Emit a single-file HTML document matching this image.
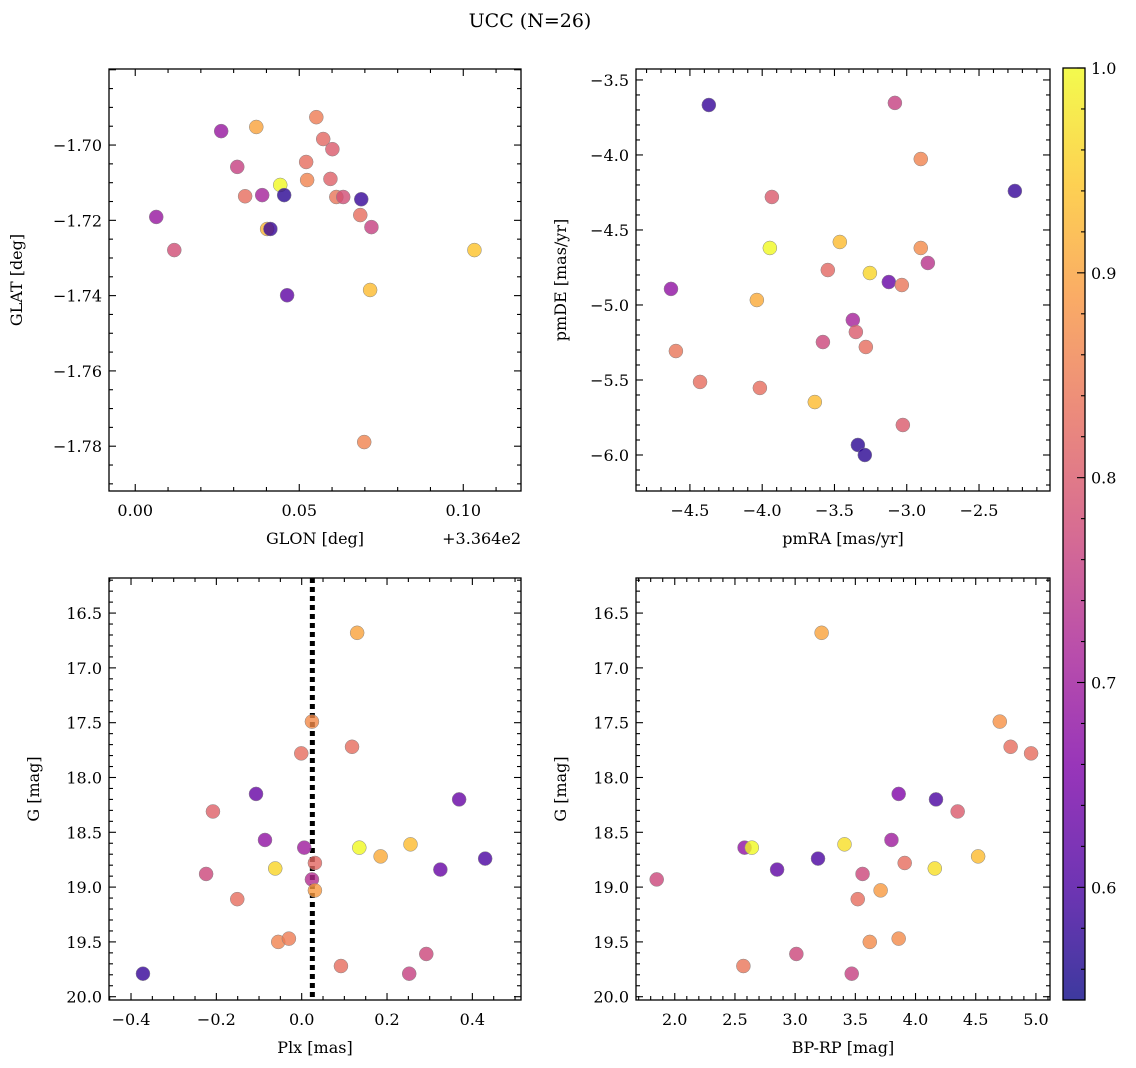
<!DOCTYPE html>
<html><head><meta charset="utf-8"><style>
body{margin:0;background:#fff;}
svg{display:block;font-family:"DejaVu Serif","Liberation Serif",serif;}
</style></head><body>
<svg id="fig" width="1136" height="1068" viewBox="0 0 1136 1068" xmlns="http://www.w3.org/2000/svg">
<defs><linearGradient id="plasma" x1="0" y1="1" x2="0" y2="0">
<stop offset="0" stop-color="#0d0887"/><stop offset="0.125" stop-color="#4c02a1"/><stop offset="0.25" stop-color="#7e03a8"/><stop offset="0.375" stop-color="#a82296"/><stop offset="0.5" stop-color="#cc4778"/><stop offset="0.625" stop-color="#e66c5c"/><stop offset="0.75" stop-color="#f89540"/><stop offset="0.875" stop-color="#fdc527"/><stop offset="1" stop-color="#f0f921"/>
</linearGradient></defs>
<text x="530" y="27" font-size="19" text-anchor="middle">UCC (N=26)</text>
</svg>
<script>
// ---- data ----
const glon = [0.0262,0.0369,0.0552,0.0573,0.0601,0.0521,0.0311,0.0442,0.0524,0.0595,0.0335,0.0387,0.0454,0.0613,0.0634,0.0689,0.0686,0.0720,0.0064,0.0119,0.0402,0.0412,0.1034,0.0716,0.0463,0.0698];
const glat = [-1.6963,-1.6952,-1.6926,-1.6984,-1.7011,-1.7045,-1.7058,-1.7106,-1.7093,-1.7090,-1.7136,-1.7133,-1.7133,-1.7138,-1.7138,-1.7144,-1.7186,-1.7218,-1.7191,-1.7279,-1.7223,-1.7223,-1.7279,-1.7385,-1.7399,-1.7789];
const cTL = [0.69,0.90,0.85,0.82,0.80,0.83,0.76,1.0,0.86,0.81,0.83,0.71,0.57,0.84,0.78,0.58,0.83,0.76,0.69,0.78,0.92,0.58,0.94,0.93,0.62,0.86];
const pmra = [-4.369,-3.082,-2.903,-2.252,-3.933,-3.947,-3.463,-2.903,-4.631,-3.546,-3.255,-3.124,-3.034,-2.854,-4.037,-3.373,-3.352,-3.58,-3.283,-4.597,-4.43,-4.016,-3.636,-3.027,-3.338,-3.29];
const pmde = [-3.667,-3.653,-4.027,-4.24,-4.28,-4.62,-4.58,-4.62,-4.893,-4.767,-4.787,-4.847,-4.867,-4.72,-4.967,-5.1,-5.18,-5.247,-5.28,-5.307,-5.513,-5.553,-5.647,-5.8,-5.933,-6.0];
const cTR = [0.58,0.76,0.86,0.58,0.8,1.0,0.93,0.87,0.68,0.82,0.96,0.63,0.84,0.74,0.91,0.71,0.8,0.77,0.83,0.84,0.83,0.83,0.93,0.8,0.57,0.57];
const plx = [0.130,0.024,-0.001,0.118,-0.107,-0.208,0.369,-0.086,0.006,0.135,0.255,0.185,0.430,0.031,-0.062,0.325,-0.224,0.024,0.031,-0.151,-0.055,-0.03,0.092,0.292,0.252,-0.372];
const gmag = [16.68,17.49,17.78,17.72,18.15,18.31,18.2,18.57,18.64,18.64,18.61,18.72,18.74,18.78,18.83,18.84,18.88,18.93,19.03,19.11,19.5,19.47,19.72,19.61,19.79,19.79];
const cBL = [0.9,0.87,0.83,0.83,0.63,0.81,0.63,0.68,0.7,1.0,0.93,0.91,0.6,0.82,0.96,0.63,0.77,0.73,0.89,0.83,0.86,0.85,0.83,0.77,0.76,0.58];
const bprp = [3.22,4.70,4.79,4.96,3.86,4.35,4.17,3.80,2.58,2.64,3.41,4.52,3.19,3.91,4.16,2.85,3.56,1.85,3.71,3.52,3.62,3.86,2.57,3.01,3.47];
const gmag2 = [16.68,17.49,17.72,17.78,18.15,18.31,18.2,18.57,18.64,18.64,18.61,18.72,18.74,18.78,18.83,18.84,18.88,18.93,19.03,19.11,19.5,19.47,19.72,19.61,19.79];
const cBR = [0.9,0.88,0.83,0.83,0.66,0.8,0.6,0.7,0.68,1.0,0.97,0.93,0.6,0.83,0.97,0.62,0.77,0.77,0.89,0.83,0.87,0.87,0.84,0.77,0.76];
const ticksTLx = [0.00,0.05,0.10], ticksTLy = [-1.70,-1.72,-1.74,-1.76,-1.78];
const ticksTRx = [-4.5,-4.0,-3.5,-3.0,-2.5], ticksTRy = [-3.5,-4.0,-4.5,-5.0,-5.5,-6.0];
const ticksBLx = [-0.4,-0.2,0.0,0.2,0.4], ticksG = [16.5,17.0,17.5,18.0,18.5,19.0,19.5,20.0];
const ticksBRx = [2.0,2.5,3.0,3.5,4.0,4.5,5.0], ticksCB = [0.6,0.7,0.8,0.9,1.0];
const plxLine = 0.025;
const cmin = 0.545, cmax = 1.0;

const NS="http://www.w3.org/2000/svg", svg=document.getElementById('fig');
function mk(tag,attrs,parent){const e=document.createElementNS(NS,tag);for(const k in attrs)e.setAttribute(k,attrs[k]);(parent||svg).appendChild(e);return e;}
const stops=[[0,[13,8,135]],[0.125,[76,2,161]],[0.25,[126,3,168]],[0.375,[168,34,150]],[0.5,[204,71,120]],[0.625,[230,108,92]],[0.75,[248,149,64]],[0.875,[253,197,39]],[1,[240,249,33]]];
function cmap(v){let t=Math.max(0,Math.min(1,(v-cmin)/(cmax-cmin)));for(let i=1;i<stops.length;i++){if(t<=stops[i][0]){const a=stops[i-1],b=stops[i],f=(t-a[0])/(b[0]-a[0]);const c=a[1].map((x,j)=>Math.round(x+(b[1][j]-x)*f));return `rgb(${c})`;}}return 'rgb(240,249,33)';}
function fmt(v,d){return (v<0?'\u2212':'')+Math.abs(v).toFixed(d);}

function panel(o){
  const g=mk('g',{});
  
  
  const sx=v=>o.x0+(v-o.xd[0])/(o.xd[1]-o.xd[0])*(o.x1-o.x0);
  const sy=v=>o.y1-(v-o.yd[0])/(o.yd[1]-o.yd[0])*(o.y1-o.y0);
  const inX=v=>v>=Math.min(...o.xd)-1e-9&&v<=Math.max(...o.xd)+1e-9;
  const inY=v=>v>=Math.min(...o.yd)-1e-9&&v<=Math.max(...o.yd)+1e-9;
  if(o.vline!==undefined){const l=mk('line',{x1:sx(o.vline),x2:sx(o.vline),y1:o.y0,y2:o.y1,stroke:'#000','stroke-width':5,'stroke-dasharray':'5,4'},g);}
  for(let i=0;i<o.xs.length;i++){
    const c=mk('circle',{cx:sx(o.xs[i]),cy:sy(o.ys[i]),r:7,fill:cmap(o.cs[i]),stroke:'#888','stroke-width':0.5,'fill-opacity':0.8},g);
    
    
  }
  const tg=mk('g',{stroke:'#000','stroke-width':1.1},g);
  const step=o.xt[1]-o.xt[0], mstep=step/o.xm;
  for(let k=-o.xm*3;k<=o.xm*(o.xt.length+3);k++){const v=o.xt[0]+k*mstep;if(!inX(v))continue;const maj=Math.abs(k%o.xm)<1e-9;const L=maj?7:4;const x=sx(v);
    mk('line',{x1:x,x2:x,y1:o.y1,y2:o.y1-L},tg);mk('line',{x1:x,x2:x,y1:o.y0,y2:o.y0+L},tg);}
  const ystep=o.yt[1]-o.yt[0], ymstep=ystep/o.ym;
  for(let k=-o.ym*3;k<=o.ym*(o.yt.length+3);k++){const v=o.yt[0]+k*ymstep;if(!inY(v))continue;const maj=Math.abs(k%o.ym)<1e-9;const L=maj?7:4;const y=sy(v);
    mk('line',{x1:o.x0,x2:o.x0+L,y1:y,y2:y},tg);mk('line',{x1:o.x1,x2:o.x1-L,y1:y,y2:y},tg);}
  o.xt.forEach(v=>{const t=mk('text',{x:sx(v),y:o.y1+25,'font-size':16,'text-anchor':'middle'},g);t.textContent=fmt(v,o.xdp);});
  o.yt.forEach(v=>{const t=mk('text',{x:o.x0-7,y:sy(v)+6,'font-size':16,'text-anchor':'end'},g);t.textContent=fmt(v,o.ydp);});
  mk('rect',{x:o.x0,y:o.y0,width:o.x1-o.x0,height:o.y1-o.y0,fill:'none',stroke:'#000','stroke-width':1.3},g);
  const xl=mk('text',{x:(o.x0+o.x1)/2,y:o.y1+53,'font-size':16,'text-anchor':'middle'},g);xl.textContent=o.xl;
  const yx=o.x0-(o.ydp===2?87:70);
  const yl=mk('text',{x:yx,y:(o.y0+o.y1)/2,'font-size':16,'text-anchor':'middle',transform:`rotate(-90 ${yx} ${(o.y0+o.y1)/2})`},g);yl.textContent=o.yl;
}
panel({name:'glon-glat-panel',x0:109,x1:521,y0:69,y1:491,xd:[-0.0080,0.1176],yd:[-1.7919,-1.6798],xs:glon,ys:glat,cs:cTL,xt:ticksTLx,xm:5,yt:ticksTLy,ym:4,xdp:2,ydp:2,xl:'GLON [deg]',yl:'GLAT [deg]'});
panel({name:'proper-motion-panel',x0:636,x1:1050,y0:69,y1:491,xd:[-4.873,-2.009],yd:[-6.24,-3.427],xs:pmra,ys:pmde,cs:cTR,xt:ticksTRx,xm:5,yt:ticksTRy,ym:5,xdp:1,ydp:1,xl:'pmRA [mas/yr]',yl:'pmDE [mas/yr]'});
panel({name:'parallax-g-panel',x0:109,x1:521,y0:578,y1:1000,xd:[-0.4516,0.514],yd:[20.03,16.18],xs:plx,ys:gmag,cs:cBL,xt:ticksBLx,xm:4,yt:ticksG,ym:5,xdp:1,ydp:1,xl:'Plx [mas]',yl:'G [mag]',vline:plxLine});
panel({name:'cmd-panel',x0:636,x1:1050,y0:578,y1:1000,xd:[1.678,5.117],yd:[20.03,16.18],xs:bprp,ys:gmag2,cs:cBR,xt:ticksBRx,xm:5,yt:ticksG,ym:5,xdp:1,ydp:1,xl:'BP-RP [mag]',yl:'G [mag]'});
const off=mk('text',{x:521,y:544,'font-size':16,'text-anchor':'end'});off.textContent='+3.364e2';


const cb=mk('g',{});


const cy0=68,cy1=1000,cx0=1063,cx1=1085;
const cs=v=>cy1-(v-cmin)/(cmax-cmin)*(cy1-cy0);
mk('rect',{x:cx0,y:cy0,width:cx1-cx0,height:cy1-cy0,fill:'url(#plasma)','fill-opacity':0.8},cb);
mk('rect',{x:cx0,y:cy0,width:cx1-cx0,height:cy1-cy0,fill:'none',stroke:'#000','stroke-width':1.3},cb);
for(let k=-30;k<=30;k++){const v=0.6+k*0.02;if(v<cmin||v>cmax+1e-9)continue;const maj=Math.abs(k%5)<1e-9;mk('line',{x1:cx1,x2:cx1-(maj?8:4),y1:cs(v),y2:cs(v),stroke:'#000','stroke-width':1.1},cb);}
ticksCB.forEach(v=>{const t=mk('text',{x:cx1+6,y:cs(v)+6,'font-size':16},cb);t.textContent=v.toFixed(1);});
</script>
</body></html>
